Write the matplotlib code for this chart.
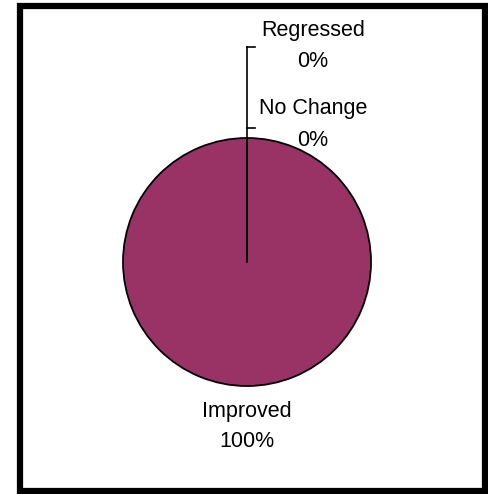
import matplotlib.pyplot as plt
from matplotlib.patches import Rectangle

categories = ['Improved', 'No Change', 'Regressed']
values = [100, 0, 0]
colors = ['#993366', '#9999ff', '#ffffcc']

plt.rcParams['font.family'] = ['Liberation Sans', 'DejaVu Sans']

fig = plt.figure(figsize=(4.88, 4.94), dpi=100)
ax = fig.add_axes([0, 0, 1, 1])

# pie (only the non-zero slice is visible)
cx, cy, r = 247, 232, 124
ax.pie(values, colors=colors, center=(cx, cy), radius=r, startangle=90,
       counterclock=False, frame=True,
       wedgeprops=dict(edgecolor='black', linewidth=1.3))
ax.set_xlim(0, 488)
ax.set_ylim(0, 494)
ax.set_aspect('equal')
ax.axis('off')

total = sum(values)
pct = [f'{v / total * 100:.0f}%' for v in values]

# leader lines for the zero slices
ax.plot([cx, cx], [cy, 447], color='black', lw=1.2)
ax.plot([cx, 255], [447, 447], color='black', lw=1.2)
ax.plot([cx, 255], [366, 366], color='black', lw=1.2)

fs = 15.5
ax.text(cx, 83, categories[0], ha='center', va='center', fontsize=fs)
ax.text(cx, 53, pct[0], ha='center', va='center', fontsize=fs)
ax.text(313, 385, categories[1], ha='center', va='center', fontsize=fs)
ax.text(313, 353, pct[1], ha='center', va='center', fontsize=fs)
ax.text(313, 463, categories[2], ha='center', va='center', fontsize=fs)
ax.text(313, 432, pct[2], ha='center', va='center', fontsize=fs)

# outer frame
ax.add_patch(Rectangle((20, 3), 465, 484.5, fill=False, edgecolor='black',
                       linewidth=4.5, clip_on=False))

fig.savefig('out.png', dpi=100)
